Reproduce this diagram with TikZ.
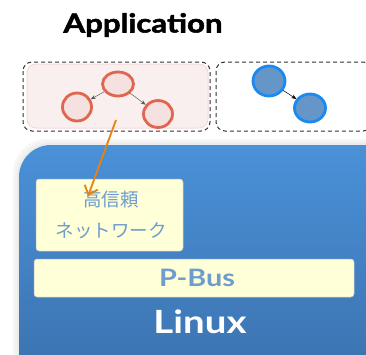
\documentclass[tikz,border=0pt]{standalone}
\usepackage{fontspec}
\setmainfont{Lato}
\newfontfamily\widefont{Lato}[FakeStretch=1.2]
\newfontfamily\titlefont{Lato}[FakeStretch=1.2, FakeBold=2]
\newfontfamily\jpfont{Noto Sans CJK JP}
\usepackage{xcolor}
\usepackage{tikz}
\usetikzlibrary{positioning, shapes, calc, arrows.meta}

\definecolor{pinkbg}{HTML}{F9EFEF}
\definecolor{pinkline}{HTML}{F0DCDA}
\definecolor{redring}{HTML}{E0664F}
\definecolor{redfill}{HTML}{F5E1E0}
\definecolor{bluering}{HTML}{1A8AF0}
\definecolor{bluefill}{HTML}{6696C8}
\definecolor{boxtop}{HTML}{4A91D8}
\definecolor{boxbot}{HTML}{3A6FAB}
\definecolor{ybox}{HTML}{FFFFD8}
\definecolor{ytext}{HTML}{6E9CCF}
\definecolor{orangearr}{HTML}{EB800E}

\tikzset{
  redproc/.style={ellipse, draw=redring, fill=redfill, line width=2.8pt},
  blueproc/.style={ellipse, draw=bluering, fill=bluefill, line width=2.8pt},
  procarrow/.style={-{Stealth[length=5pt,width=4pt]}, line width=0.5pt},
  dashbox/.style={draw=black!80, line width=1pt, dash pattern=on 4pt off 3pt, rounded corners=9},
  yellowbox/.style={rectangle, fill=ybox, draw=black!25, line width=0.5pt, rounded corners=3}
}

\begin{document}
\begin{tikzpicture}[x=1pt, y=-1pt, every node/.style={inner sep=0pt}]
\useasboundingbox (0,0) rectangle (366,354);
\clip (0,0) rectangle (366,354);

%//application layer
\node [font=\titlefont\bfseries\fontsize{26}{26}\selectfont] (apptitle) at (143,25) {Application};

\fill [pinkbg, draw=pinkline, line width=1pt, rounded corners=9] (27,64) rectangle (208,128);
\draw [dashbox] (23,62) rectangle (210,131);
\draw [dashbox] (216,62) rectangle (372,131);

\node [redproc, minimum width=31, minimum height=24] (pa) at (118,84) {};
\node [redproc, minimum width=29, minimum height=28] (pb) at (77,107) {};
\node [redproc, minimum width=29, minimum height=27] (pc) at (158,114) {};
\draw [procarrow, black!65] (pa) -- (pb);
\draw [procarrow, black!65] (pa) -- (pc);

\node [blueproc, minimum width=32, minimum height=30] (qa) at (269,81) {};
\node [blueproc, minimum width=31, minimum height=28] (qb) at (310,108) {};
\draw [procarrow] (qa) -- (qb);

%//linux layer
\foreach \s/\c in {6/3, 4/5, 2/8}
\fill [black!\c, rounded corners=34] (19-\s,145-\s) rectangle (400,400);
\shade [top color=boxtop, bottom color=boxbot, rounded corners=32] (19,145) rectangle (400,400);

\node [yellowbox, minimum width=147, minimum height=72] (hrnet) at (109.5,215) {};
\node [align=center, text=ytext, font=\jpfont\fontsize{18.5}{31}\selectfont] (hrtext) at (111,215) {高信頼\\ネットワーク};

\node [yellowbox, minimum width=320, minimum height=38] (pbus) at (194,278) {};
\node [text=ytext, font=\widefont\bfseries\fontsize{24}{24}\selectfont] (pbustext) at (197,278) {P-Bus};

\node [text=white, font=\widefont\bfseries\fontsize{32}{32}\selectfont] (linux) at (200,322) {Linux};

%//orange link
\coordinate (from) at (116,120);
\coordinate (to) at (88,196);
\draw [orangearr, line width=1.8pt, -{Straight Barb[length=8pt,width=14pt]}] (from) -- (to);
\end{tikzpicture}
\end{document}
